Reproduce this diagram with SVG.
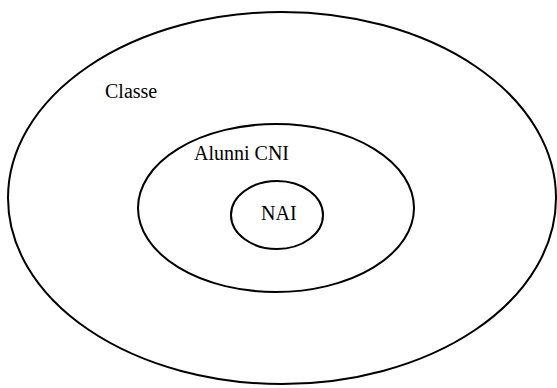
<svg xmlns="http://www.w3.org/2000/svg" width="557" height="388" viewBox="0 0 557 388">
<style>
.e{fill:none;stroke:#000;stroke-width:2}
text{font-family:"Liberation Serif","DejaVu Serif",serif;font-size:20px;fill:#000}
</style>
<rect width="557" height="388" fill="#fff"/>
<g id="classe"><ellipse class="e" cx="282" cy="198" rx="274" ry="186"/><text x="105" y="98" font-family="Liberation Serif, serif">Classe</text></g>
<g id="alunni-cni"><ellipse class="e" cx="276" cy="208" rx="138" ry="84"/><text x="194" y="160" font-family="Liberation Serif, serif">Alunni CNI</text></g>
<g id="nai"><ellipse class="e" cx="277" cy="215" rx="46" ry="34"/><text x="261" y="220" font-family="Liberation Serif, serif">NAI</text></g>
<g id="connectors"/>
</svg>
